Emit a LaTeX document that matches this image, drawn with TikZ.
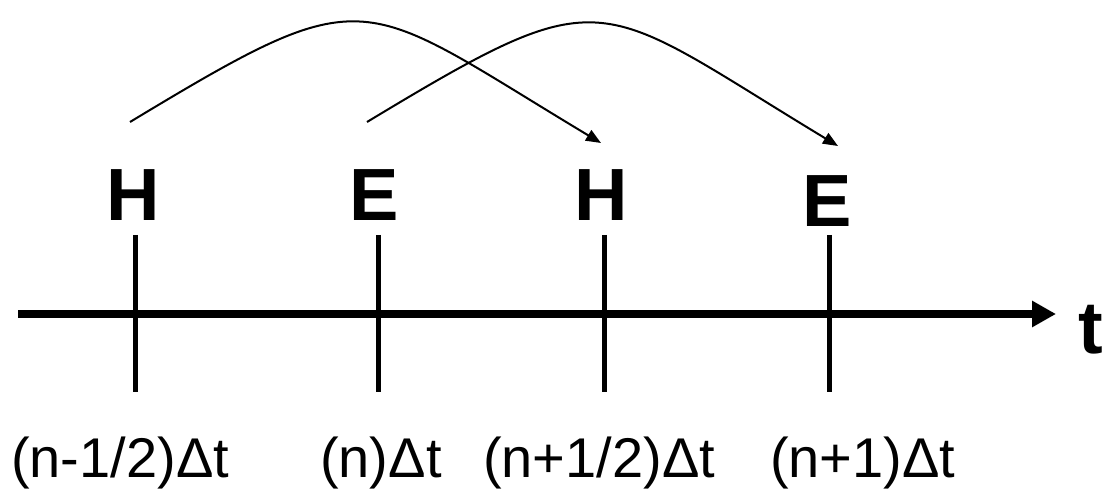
\documentclass[tikz,border=0pt]{standalone}
\usepackage{fontspec}
\setmainfont{Liberation Sans}
\usetikzlibrary{arrows.meta, positioning, calc}

\tikzset{
  fieldlbl/.style={font=\fontsize{74}{74}\selectfont\bfseries, anchor=base west, inner sep=0pt},
  timelbl/.style={font=\fontsize{56}{56}\selectfont, anchor=base west, inner sep=0pt},
  tickline/.style={line width=5pt},
  hop/.style={line width=2pt, -{Triangle[length=15pt,width=12pt]}}
}

\begin{document}
\begin{tikzpicture}[x=1pt,y=-1pt]
  \useasboundingbox (0,0) rectangle (1112,489);
  % time axis
  \coordinate (axL) at (18,314);
  \coordinate (axR) at (1056,314);
  \draw[line width=8pt, -{Triangle[length=24pt,width=25pt]}] (axL) -- (axR);
  \node[fieldlbl] (tlbl) at (1078,353) {t};
  % ticks at half and full steps
  \foreach \x in {135,378,604,829} {
    \draw[tickline] (\x,235) -- (\x,392);
  }
  % field labels
  \node[fieldlbl] (H1) at (106,221) {H};
  \node[fieldlbl] (E1) at (349,221) {E};
  \node[fieldlbl] (H2) at (574,221) {H};
  \node[fieldlbl] (E2) at (802,227) {E};
  % step labels
  \node[timelbl] (t1) at (11,477) {(n-1/2)Δt};
  \node[timelbl] (t2) at (320,477) {(n)Δt};
  \node[timelbl] (t3) at (483,477) {(n+1/2)Δt};
  \node[timelbl] (t4) at (770,477) {(n+1)Δt};
  % leapfrog updates
  \coordinate (h1s) at (130,122);
  \coordinate (h1e) at (601,143);
  \coordinate (e1s) at (367,122);
  \coordinate (e1e) at (838,146);
  \draw[hop] (h1s) .. controls (372,-24) and (356,-4) .. (h1e);
  \draw[hop] (e1s) .. controls (609,-24) and (593,-2) .. (e1e);
\end{tikzpicture}
\end{document}
